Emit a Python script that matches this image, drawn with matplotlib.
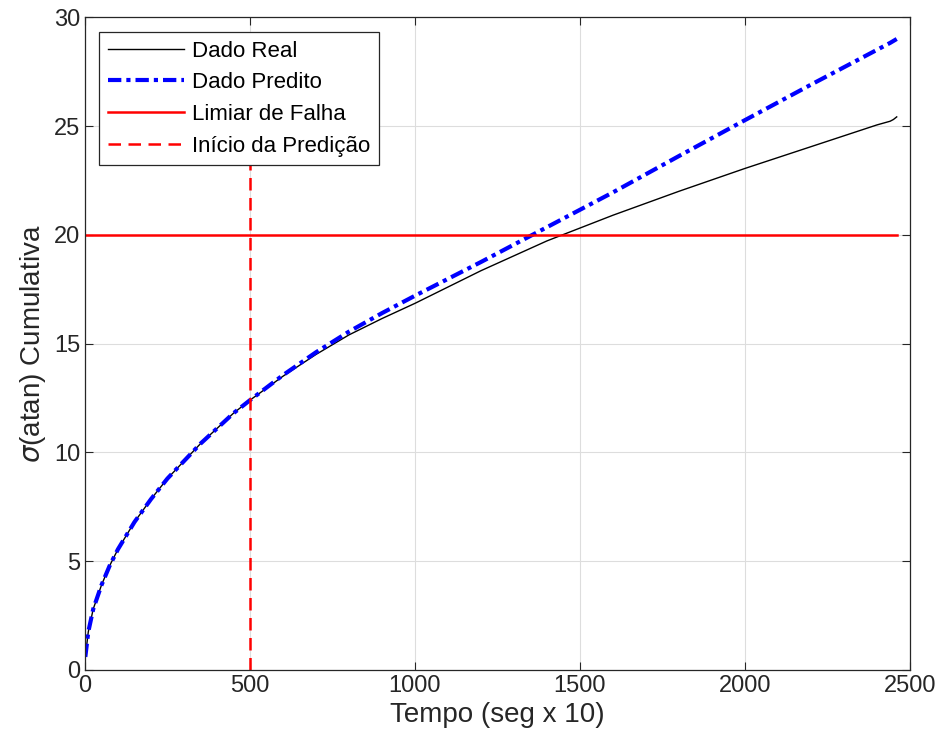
import matplotlib.pyplot as plt
import numpy as np

plt.rcParams['font.family'] = ['Liberation Sans', 'DejaVu Sans']

# tempo (seg x 10)
tempo = [1, 10, 25, 50, 75, 100, 150, 200, 250, 300, 350, 400, 450, 500,
         600, 700, 800, 900, 1000, 1200, 1400, 1600, 1800, 2000, 2200, 2400, 2440, 2450, 2460]
real = [0.6, 1.75, 2.8, 3.9, 4.8, 5.55, 6.8, 7.85, 8.8, 9.6, 10.4, 11.1, 11.8, 12.4,
        13.5, 14.5, 15.4, 16.15, 16.85, 18.35, 19.72, 20.9, 22.0, 23.05, 24.05, 25.05, 25.22, 25.3, 25.42]
predito = [0.6, 1.75, 2.8, 3.9, 4.8, 5.55, 6.8, 7.85, 8.8, 9.6, 10.4, 11.1, 11.8, 12.4,
           13.55, 14.6, 15.55, 16.4, 17.2, 18.75, 20.35, 21.95, 23.62, 25.27, 26.9, 28.5, 28.82, 28.91, 29.0]
limiar = 20
inicio = 500

fig = plt.figure(figsize=(9.4, 7.49), dpi=100)
ax = fig.add_axes([0.0904, 0.1055, 0.8776, 0.8715])

ax.plot(tempo, real, color='black', lw=1, label='Dado Real')
ax.plot(tempo, predito, color='blue', lw=3, ls=(0, (3.2, 1.2, 1, 1.2)), label='Dado Predito')
ax.plot([0, tempo[-1]], [limiar, limiar], color='red', lw=1.8, label='Limiar de Falha')
ax.plot([inicio, inicio], [0, 25], color='red', lw=1.8, ls=(0, (5, 3)), label='Início da Predição')

ax.set_xlim(0, 2500)
ax.set_ylim(0, 30)
ax.set_xticks(np.arange(0, 2501, 500))
ax.set_yticks(np.arange(0, 31, 5))
ax.grid(True, color='#dddddd', lw=0.8)
ax.set_axisbelow(True)
ax.tick_params(direction='in', top=True, right=True, labelsize=17, length=6,
               color='#262626', labelcolor='#262626')
for s in ax.spines.values():
    s.set_color('#262626')
    s.set_linewidth(0.9)

ax.set_xlabel('Tempo (seg x 10)', fontsize=20, color='#262626')
ax.set_ylabel(r'$\sigma$(atan) Cumulativa', fontsize=20, color='#262626')

leg = ax.legend(loc='upper left', fontsize=16, fancybox=False, edgecolor='#262626',
                framealpha=1, handlelength=3.4, handletextpad=0.35, borderaxespad=0.65,
                labelspacing=0.48, borderpad=0.4)
leg.get_frame().set_linewidth(0.9)

plt.savefig('out.png')
